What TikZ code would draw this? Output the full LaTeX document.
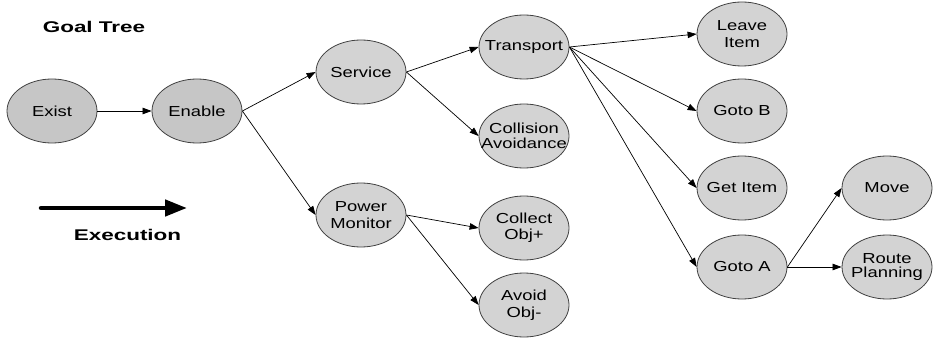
\documentclass[tikz,border=0pt]{standalone}
\usepackage{fontspec}
\setmainfont{Liberation Sans}
\newfontfamily\goalfont[FakeStretch=1.27]{Liberation Sans}
\newfontfamily\headfont[FakeStretch=1.45]{Liberation Sans}
\usetikzlibrary{shapes.geometric,arrows.meta}
\definecolor{goalfill}{HTML}{D3D3D3}
\definecolor{rootfill}{HTML}{C6C6C6}
\definecolor{goalline}{HTML}{404040}
\tikzset{
  % fixed-size ellipses: negative padding lets the minimum size decide
  goal/.style={ellipse,draw=goalline,line width=0.8pt,fill=goalfill,
    minimum width=90pt,minimum height=64pt,inner xsep=-42pt,inner ysep=-18pt,
    align=center,font=\goalfont\fontsize{14.5}{16.5}\selectfont},
  tightgoal/.style={goal,font=\goalfont\fontsize{14.5}{#1}\selectfont},
  rootgoal/.style={goal,fill=rootfill},
  link/.style={draw=black,line width=0.7pt,-{Triangle[length=9pt,width=6.5pt]}},
  heading/.style={font=\headfont\bfseries\fontsize{15.5}{15.5}\selectfont,inner sep=0pt}
}
\begin{document}
\begin{tikzpicture}[x=1pt,y=-1pt]
  \useasboundingbox (0,0) rectangle (936,339);
  % goal nodes
  \node[rootgoal] (exist)  at (52,111)  {Exist};
  \node[rootgoal] (enable) at (197,111) {Enable};
  \node[goal] (service)   at (361,72)  {Service};
  \node[goal] (power)     at (361,215) {Power\\Monitor};
  \node[goal] (transport) at (524,47)  {Transport};
  \node[tightgoal=14.5] (collision) at (524,136) {Collision\\Avoidance};
  \node[goal] (collect)   at (524,228) {Collect\\Obj+};
  \node[goal] (avoid)     at (524,305) {Avoid\\Obj-};
  \node[goal] (leave)     at (742,34)  {Leave\\Item};
  \node[goal] (gotob)     at (742,111) {Goto B};
  \node[goal] (getitem)   at (742,188) {Get Item};
  \node[goal] (gotoa)     at (742,267) {Goto A};
  \node[goal] (move)      at (887,188) {Move};
  \node[tightgoal=14] (route) at (887,267) {Route\\Planning};
  % decomposition links
  \draw[link] (exist.east) -- (enable.west);
  \draw[link] (enable.east) -- (service.west);
  \draw[link] (enable.east) -- (power.west);
  \draw[link] (service.east) -- (transport.west);
  \draw[link] (service.east) -- (collision.west);
  \draw[link] (power.east) -- (collect.west);
  \draw[link] (power.east) -- (avoid.west);
  \draw[link] (transport.east) -- (leave.west);
  \draw[link] (transport.east) -- (gotob.west);
  \draw[link] (transport.east) -- (getitem.west);
  \draw[link] (transport.east) -- (gotoa.west);
  \draw[link] (gotoa.east) -- (move.west);
  \draw[link] (gotoa.east) -- (route.west);
  % headings and execution direction
  \node[heading] (title) at (94,27) {Goal Tree};
  \coordinate (execstart) at (41,208);
  \coordinate (execend) at (187,208);
  \draw[line width=4.5pt,line cap=round,-{Triangle[length=22pt,width=16pt]}] (execstart) -- (execend);
  \node[heading] (exec) at (127.5,235) {Execution};
\end{tikzpicture}
\end{document}
